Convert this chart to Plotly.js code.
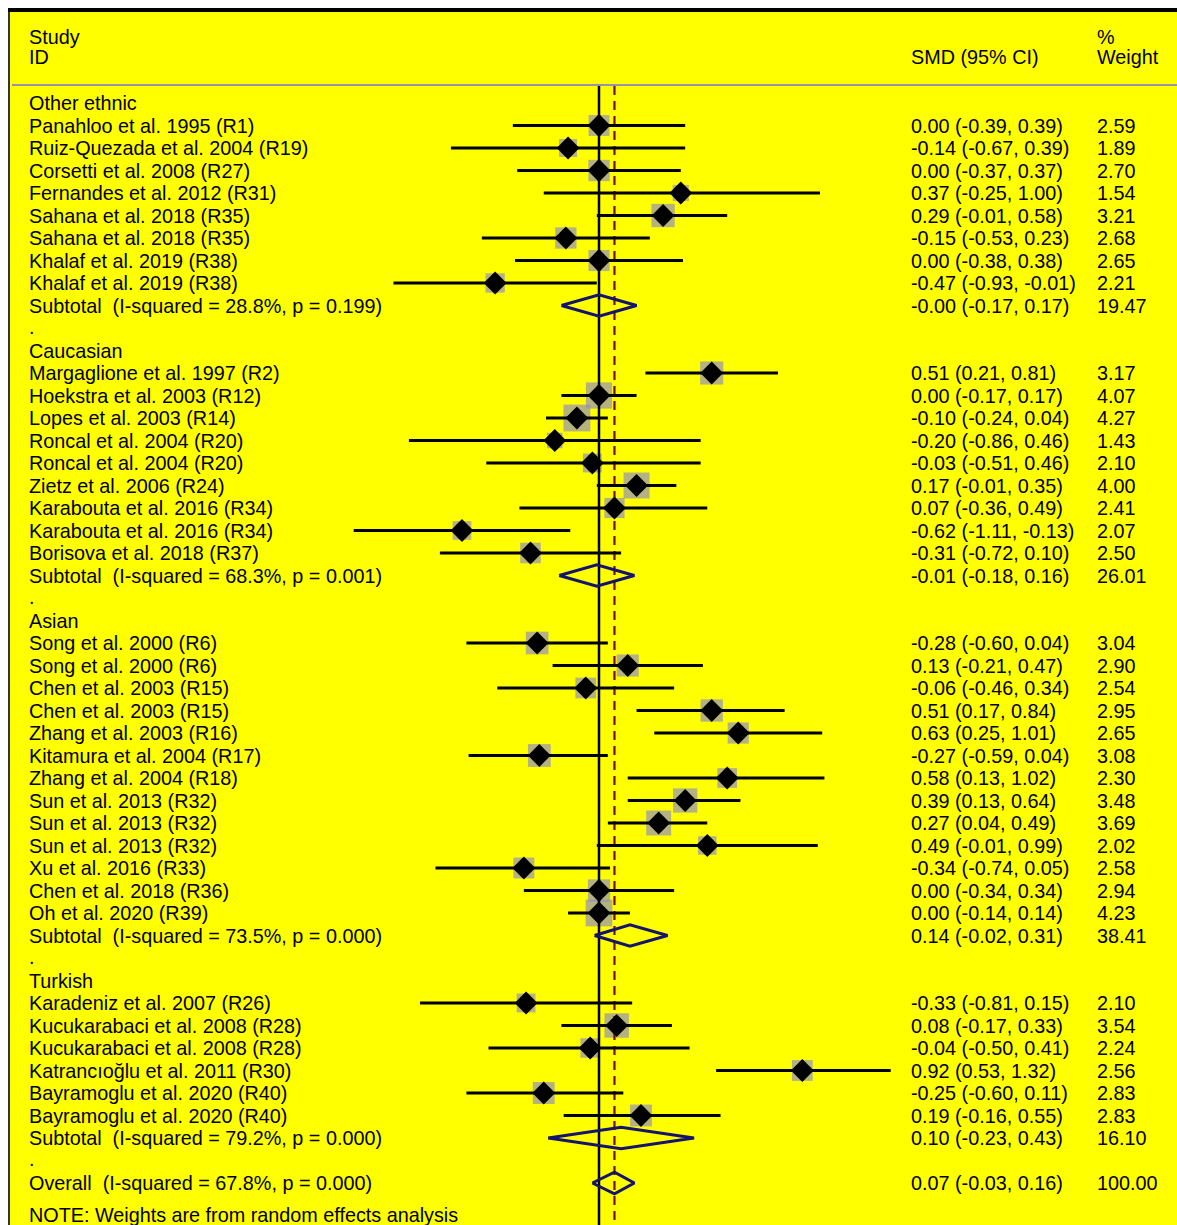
<!DOCTYPE html>
<html>
<head>
<meta charset="utf-8">
<script src="https://cdn.plot.ly/plotly-3.0.1.min.js"></script>
<style>html,body{margin:0;padding:0;background:#fff;}#chart{width:1177px;height:1225px;}</style>
</head>
<body>
<div id="chart"></div>
<script>
// ---------------- DATA ----------------
const groupNames = ['Other ethnic', 'Caucasian', 'Asian', 'Turkish'];

const studyLabels = [
  'Panahloo et al. 1995 (R1)', 'Ruiz-Quezada et al. 2004 (R19)', 'Corsetti et al. 2008 (R27)',
  'Fernandes et al. 2012 (R31)', 'Sahana et al. 2018 (R35)', 'Sahana et al. 2018 (R35)',
  'Khalaf et al. 2019 (R38)', 'Khalaf et al. 2019 (R38)',
  'Margaglione et al. 1997 (R2)', 'Hoekstra et al. 2003 (R12)', 'Lopes et al. 2003 (R14)',
  'Roncal et al. 2004 (R20)', 'Roncal et al. 2004 (R20)', 'Zietz et al. 2006 (R24)',
  'Karabouta et al. 2016 (R34)', 'Karabouta et al. 2016 (R34)', 'Borisova et al. 2018 (R37)',
  'Song et al. 2000 (R6)', 'Song et al. 2000 (R6)', 'Chen et al. 2003 (R15)', 'Chen et al. 2003 (R15)',
  'Zhang et al. 2003 (R16)', 'Kitamura et al. 2004 (R17)', 'Zhang et al. 2004 (R18)',
  'Sun et al. 2013 (R32)', 'Sun et al. 2013 (R32)', 'Sun et al. 2013 (R32)', 'Xu et al. 2016 (R33)',
  'Chen et al. 2018 (R36)', 'Oh et al. 2020 (R39)',
  'Karadeniz et al. 2007 (R26)', 'Kucukarabaci et al. 2008 (R28)', 'Kucukarabaci et al. 2008 (R28)',
  'Katrancıoğlu et al. 2011 (R30)', 'Bayramoglu et al. 2020 (R40)', 'Bayramoglu et al. 2020 (R40)'
];
const studyGroup = [0,0,0,0,0,0,0,0, 1,1,1,1,1,1,1,1,1, 2,2,2,2,2,2,2,2,2,2,2,2,2, 3,3,3,3,3,3];
const studyEst = [0.00, -0.14, 0.00, 0.37, 0.29, -0.15, 0.00, -0.47,
  0.51, 0.00, -0.10, -0.20, -0.03, 0.17, 0.07, -0.62, -0.31,
  -0.28, 0.13, -0.06, 0.51, 0.63, -0.27, 0.58, 0.39, 0.27, 0.49, -0.34, 0.00, 0.00,
  -0.33, 0.08, -0.04, 0.92, -0.25, 0.19];
const studyLo = [-0.39, -0.67, -0.37, -0.25, -0.01, -0.53, -0.38, -0.93,
  0.21, -0.17, -0.24, -0.86, -0.51, -0.01, -0.36, -1.11, -0.72,
  -0.60, -0.21, -0.46, 0.17, 0.25, -0.59, 0.13, 0.13, 0.04, -0.01, -0.74, -0.34, -0.14,
  -0.81, -0.17, -0.50, 0.53, -0.60, -0.16];
const studyHi = [0.39, 0.39, 0.37, 1.00, 0.58, 0.23, 0.38, -0.01,
  0.81, 0.17, 0.04, 0.46, 0.46, 0.35, 0.49, -0.13, 0.10,
  0.04, 0.47, 0.34, 0.84, 1.01, 0.04, 1.02, 0.64, 0.49, 0.99, 0.05, 0.34, 0.14,
  0.15, 0.33, 0.41, 1.32, 0.11, 0.55];
const studyWeight = [2.59, 1.89, 2.70, 1.54, 3.21, 2.68, 2.65, 2.21,
  3.17, 4.07, 4.27, 1.43, 2.10, 4.00, 2.41, 2.07, 2.50,
  3.04, 2.90, 2.54, 2.95, 2.65, 3.08, 2.30, 3.48, 3.69, 2.02, 2.58, 2.94, 4.23,
  2.10, 3.54, 2.24, 2.56, 2.83, 2.83];

const subLabels = ['Subtotal  (I-squared = 28.8%, p = 0.199)', 'Subtotal  (I-squared = 68.3%, p = 0.001)',
  'Subtotal  (I-squared = 73.5%, p = 0.000)', 'Subtotal  (I-squared = 79.2%, p = 0.000)'];
const subEst = [-0.00, -0.01, 0.14, 0.10];
const subLo = [-0.17, -0.18, -0.02, -0.23];
const subHi = [0.17, 0.16, 0.31, 0.43];
const subWeight = [19.47, 26.01, 38.41, 16.10];

const overallLabel = 'Overall  (I-squared = 67.8%, p = 0.000)';
const overallEst = 0.07, overallLo = -0.03, overallHi = 0.16, overallWeight = 100.00;
const noteText = 'NOTE: Weights are from random effects analysis';

// ---------------- LAYOUT GEOMETRY ----------------
const W = 1177, H = 1225;
const X0PX = 599, XSCALE = 221;      // pixel of SMD = 0, pixels per SMD unit
const ROW0PX = 103, ROWH = 22.5;     // pixel of first row, row height
const xRange = [(0 - X0PX) / XSCALE, (W - X0PX) / XSCALE];
const yRange = [(H - ROW0PX) / ROWH, (0 - ROW0PX) / ROWH];
const rowOf = p => (p - ROW0PX) / ROWH;
const px = p => p / W;
const FONT = {family: 'Liberation Sans, Arial, sans-serif', size: 19.8, color: '#000'};

function fmt(v) { return (Object.is(v, -0) ? '-' : '') + v.toFixed(2); }
function ciText(e, l, h) { return fmt(e) + ' (' + fmt(l) + ', ' + fmt(h) + ')'; }

// ---------------- BUILD ROWS ----------------
const ann = [];
function txt(x, y, t, yref) {
  ann.push({x: px(x), xref: 'paper', y: y, yref: yref || 'y', text: t, showarrow: false,
    xanchor: 'left', yanchor: 'middle', align: 'left', font: FONT});
}
const LABEL_X = 27, CI_X = 909, W_X = 1095;

const sRow = [], sX = [], sLo = [], sHi = [], sW = [];
const subRows = [];
let row = 0;
groupNames.forEach((g, gi) => {
  txt(LABEL_X, row, g);
  row++;
  studyLabels.forEach((lab, i) => {
    if (studyGroup[i] !== gi) return;
    txt(LABEL_X, row, lab);
    txt(CI_X, row, ciText(studyEst[i], studyLo[i], studyHi[i]));
    txt(W_X, row, studyWeight[i].toFixed(2));
    sRow.push(row); sX.push(studyEst[i]); sLo.push(studyLo[i]); sHi.push(studyHi[i]); sW.push(studyWeight[i]);
    row++;
  });
  txt(LABEL_X, row, subLabels[gi]);
  txt(CI_X, row, ciText(subEst[gi], subLo[gi], subHi[gi]));
  txt(W_X, row, subWeight[gi].toFixed(2));
  subRows.push(row);
  row++;
  txt(LABEL_X, row - 0.05, '.');
  row++;
});
const overallRow = row;
txt(LABEL_X, overallRow, overallLabel);
txt(CI_X, overallRow, ciText(overallEst, overallLo, overallHi));
txt(W_X, overallRow, overallWeight.toFixed(2));
txt(LABEL_X, rowOf(1215), noteText);

// headers
txt(LABEL_X, rowOf(37), 'Study');
txt(LABEL_X, rowOf(57), 'ID');
txt(CI_X, rowOf(57), 'SMD (95% CI)');
txt(W_X, rowOf(37), '%');
txt(W_X, rowOf(57), 'Weight');

// ---------------- TRACES ----------------
const ciX = [], ciY = [];
sRow.forEach((r, i) => { ciX.push(sLo[i], sHi[i], null); ciY.push(r, r, null); });

const dX = [], dY = [];
const DH = 0.48;
function addDiamond(r, e, l, h) {
  dX.push(l, e, h, e, l, null);
  dY.push(r, r - DH, r, r + DH, r, null);
}
subRows.forEach((r, gi) => addDiamond(r, subEst[gi], subLo[gi], subHi[gi]));
addDiamond(overallRow, overallEst, overallLo, overallHi);

const lineTop = rowOf(86), lineBottom = yRange[0] + 1;

const traces = [
  {type: 'scatter', mode: 'markers', x: sX, y: sRow, hoverinfo: 'skip',
   marker: {symbol: 'square', size: sW.map(w => 13 * Math.sqrt(w)), color: '#9491b8', line: {width: 0}}},
  {type: 'scatter', mode: 'lines', x: [0, 0], y: [lineTop, lineBottom], hoverinfo: 'skip',
   line: {color: '#000', width: 2.5}},
  {type: 'scatter', mode: 'lines', x: [overallEst, overallEst], y: [lineTop, lineBottom], hoverinfo: 'skip',
   line: {color: '#7a0a0a', width: 2.2, dash: '9px,6px'}},
  {type: 'scatter', mode: 'lines', x: ciX, y: ciY, hoverinfo: 'skip',
   line: {color: '#000', width: 3}},
  {type: 'scatter', mode: 'markers', x: sX, y: sRow, hoverinfo: 'skip',
   marker: {symbol: 'diamond', size: 17.5, color: '#000', line: {width: 0}}},
  {type: 'scatter', mode: 'lines', x: dX, y: dY, hoverinfo: 'skip',
   line: {color: '#14146e', width: 3}}
];

const layout = {
  width: W, height: H,
  margin: {l: 0, r: 0, t: 0, b: 0, pad: 0},
  paper_bgcolor: '#ffffff',
  plot_bgcolor: 'rgba(0,0,0,0)',
  showlegend: false,
  xaxis: {range: xRange, showgrid: false, zeroline: false, showticklabels: false, showline: false, fixedrange: true},
  yaxis: {range: yRange, showgrid: false, zeroline: false, showticklabels: false, showline: false, fixedrange: true},
  shapes: [
    {type: 'rect', layer: 'below', xref: 'paper', yref: 'paper', x0: px(10), x1: 1.02, y0: -0.02, y1: 1 - 10 / H,
     fillcolor: '#ffff00', line: {width: 0}},
    {type: 'line', layer: 'below', xref: 'paper', yref: 'paper', x0: px(9), x1: px(9), y0: -0.02, y1: 1 - 10 / H,
     line: {color: '#333', width: 2}},
    {type: 'line', layer: 'below', xref: 'paper', yref: 'paper', x0: px(8), x1: 1.02, y0: 1 - 10 / H, y1: 1 - 10 / H,
     line: {color: '#000', width: 4}},
    {type: 'line', layer: 'below', xref: 'paper', yref: 'y', x0: px(12), x1: 1.02, y0: rowOf(85), y1: rowOf(85),
     line: {color: '#9a92a8', width: 2}}
  ],
  annotations: ann
};

Plotly.newPlot('chart', traces, layout, {staticPlot: true, displayModeBar: false});
</script>
</body>
</html>
